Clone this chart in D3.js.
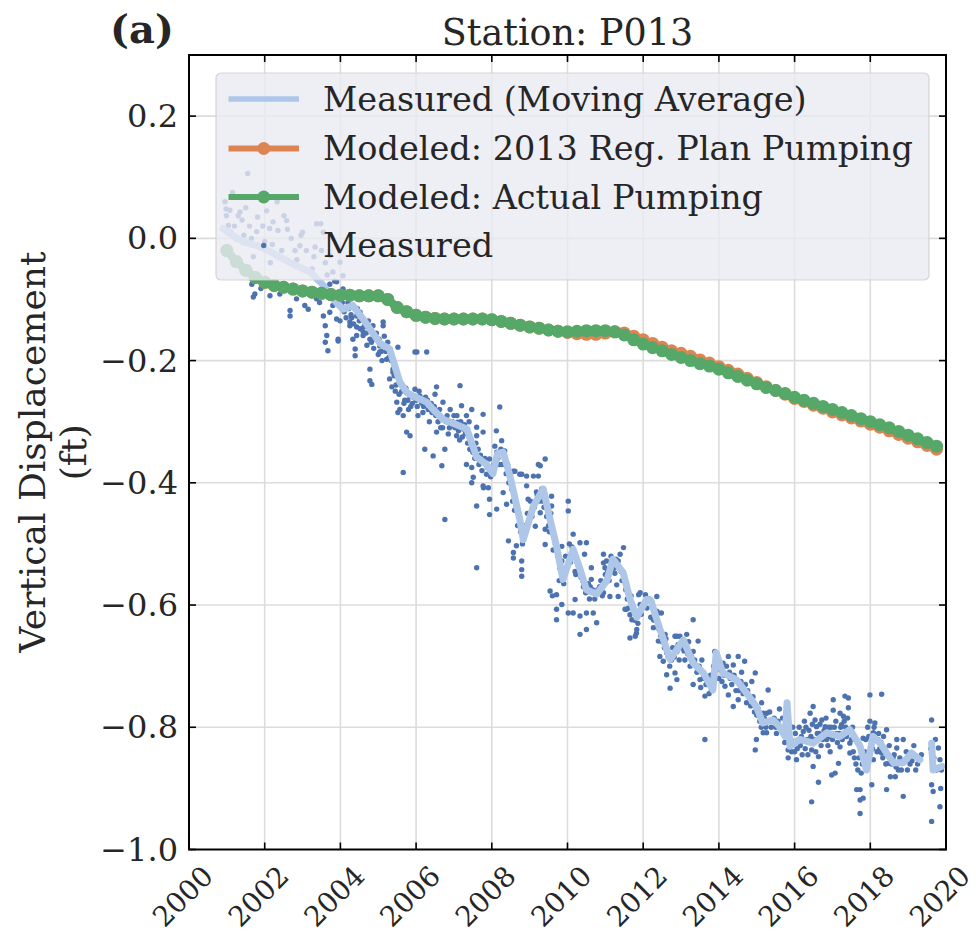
<!DOCTYPE html>
<html><head><meta charset="utf-8">
<script src="https://cdn.jsdelivr.net/npm/d3@7"></script>
<style>body{margin:0;background:#fff}svg{display:block}text{font-family:"DejaVu Serif",serif;fill:#262626}</style>
</head><body>
<svg id="chart" width="976" height="939"></svg>
<script>
const title = "Station: P013";
const panelLabel = "(a)";
const yLabelLines = ["Vertical Displacement", "(ft)"];
const xTicks = [2000,2002,2004,2006,2008,2010,2012,2014,2016,2018,2020];
const yTicks = [-1.0,-0.8,-0.6,-0.4,-0.2,0.0,0.2];
const legendLabels = ["Measured (Moving Average)","Modeled: 2013 Reg. Plan Pumping","Modeled: Actual Pumping","Measured"];

// Modeled series (quarterly)
const modelYears = [2001.00,2001.25,2001.50,2001.75,2002.00,2002.25,2002.50,2002.75,2003.00,2003.25,2003.50,2003.75,2004.00,2004.25,2004.50,2004.75,2005.00,2005.25,2005.50,2005.75,2006.00,2006.25,2006.50,2006.75,2007.00,2007.25,2007.50,2007.75,2008.00,2008.25,2008.50,2008.75,2009.00,2009.25,2009.50,2009.75,2010.00,2010.25,2010.50,2010.75,2011.00,2011.25,2011.50,2011.75,2012.00,2012.25,2012.50,2012.75,2013.00,2013.25,2013.50,2013.75,2014.00,2014.25,2014.50,2014.75,2015.00,2015.25,2015.50,2015.75,2016.00,2016.25,2016.50,2016.75,2017.00,2017.25,2017.50,2017.75,2018.00,2018.25,2018.50,2018.75,2019.00,2019.25,2019.50,2019.75];
const actualPumping = [-0.020,-0.038,-0.052,-0.064,-0.072,-0.077,-0.080,-0.083,-0.086,-0.088,-0.090,-0.092,-0.093,-0.093,-0.094,-0.094,-0.094,-0.100,-0.113,-0.120,-0.126,-0.129,-0.131,-0.132,-0.132,-0.132,-0.132,-0.132,-0.133,-0.136,-0.139,-0.142,-0.145,-0.147,-0.150,-0.152,-0.153,-0.152,-0.151,-0.151,-0.151,-0.153,-0.158,-0.166,-0.173,-0.179,-0.184,-0.190,-0.195,-0.200,-0.205,-0.209,-0.214,-0.220,-0.226,-0.232,-0.238,-0.244,-0.249,-0.254,-0.260,-0.265,-0.270,-0.275,-0.280,-0.285,-0.290,-0.295,-0.300,-0.305,-0.310,-0.316,-0.322,-0.328,-0.334,-0.340];
const regPlanPumping = [-0.020,-0.038,-0.052,-0.064,-0.072,-0.077,-0.080,-0.083,-0.086,-0.088,-0.090,-0.092,-0.093,-0.093,-0.094,-0.094,-0.094,-0.100,-0.113,-0.120,-0.126,-0.129,-0.131,-0.132,-0.132,-0.132,-0.132,-0.132,-0.133,-0.136,-0.139,-0.142,-0.145,-0.147,-0.150,-0.152,-0.154,-0.156,-0.157,-0.157,-0.155,-0.153,-0.155,-0.160,-0.166,-0.172,-0.178,-0.184,-0.188,-0.193,-0.199,-0.204,-0.210,-0.216,-0.222,-0.229,-0.236,-0.243,-0.249,-0.255,-0.262,-0.267,-0.273,-0.278,-0.284,-0.289,-0.294,-0.299,-0.304,-0.309,-0.315,-0.321,-0.327,-0.333,-0.339,-0.345];

// Moving average [year, value] (null = gap)
const movingAverage = [[2000.90,0.016],[2001.15,0.005],[2001.45,-0.006],[2001.80,-0.012],[2002.15,-0.022],[2002.50,-0.034],[2002.85,-0.045],[2003.20,-0.055],[2003.55,-0.077],[2003.80,-0.099],[2004.07,-0.116],[2004.33,-0.110],[2004.60,-0.132],[2004.80,-0.150],[2005.05,-0.172],[2005.30,-0.181],[2005.57,-0.235],[2005.75,-0.252],[2005.92,-0.258],[2006.28,-0.268],[2006.45,-0.280],[2006.71,-0.296],[2007.07,-0.305],[2007.34,-0.312],[2007.60,-0.358],[2007.86,-0.370],[2008.03,-0.385],[2008.15,-0.352],[2008.30,-0.350],[2008.48,-0.389],[2008.74,-0.460],[2008.83,-0.493],[2009.10,-0.438],[2009.36,-0.410],[2009.54,-0.460],[2009.71,-0.504],[2009.88,-0.558],[2010.15,-0.509],[2010.33,-0.541],[2010.50,-0.575],[2010.77,-0.582],[2011.04,-0.560],[2011.20,-0.525],[2011.47,-0.547],[2011.65,-0.590],[2011.83,-0.620],[2012.09,-0.591],[2012.20,-0.592],[2012.36,-0.624],[2012.71,-0.689],[2013.06,-0.657],[2013.32,-0.695],[2013.59,-0.711],[2013.84,-0.739],[2013.93,-0.678],[2014.10,-0.711],[2014.46,-0.722],[2014.73,-0.744],[2014.99,-0.766],[2015.16,-0.793],[2015.43,-0.788],[2015.60,-0.799],[2015.75,-0.815],[2015.80,-0.760],[2015.88,-0.831],[2016.14,-0.820],[2016.49,-0.826],[2016.85,-0.809],[2017.20,-0.815],[2017.46,-0.804],[2017.73,-0.831],[2017.90,-0.870],[2018.07,-0.815],[2018.26,-0.826],[2018.43,-0.842],[2018.61,-0.858],[2018.87,-0.858],[2019.09,-0.842],[2019.31,-0.853],[2019.45,null],[2019.62,-0.826],[2019.66,-0.870],[2019.89,-0.864]];

// Measured points [year, value]
const measured = [
[2000.99,0.037],[2001.35,0.043],[2002.22,0.027],[2002.58,0.029],[2003.37,0.024],[2003.33,-0.014],[2002.93,-0.012],[2001.79,0.011],[2002.35,0.013],[2001.08,0.046],[2001.25,-0.001],[2003.72,-0.028],[2003.99,-0.039],[2004.07,-0.061],[2001.55,0.106],[2000.98,0.048],[2001.30,0.037],[2002.33,0.060],[2002.51,0.037],[2003.48,0.024],[2002.13,0.016],[2001.04,0.021],[2002.96,0.005],[2001.81,0.035],
[2001.15,0.075],[2001.60,0.020],[2002.00,-0.005],[2002.70,0.000],[2003.10,-0.020],[2003.60,-0.040],[2001.45,0.005],[2000.95,0.060],[2001.70,-0.030],[2002.45,-0.020],[2002.85,-0.035],[2003.25,-0.050],[2003.55,0.010],[2001.20,0.020],[2002.15,-0.040],[2003.80,-0.055],
[2001.10,0.010],[2001.40,0.030],[2001.65,0.000],[2001.95,0.020],[2002.20,-0.010],[2002.60,0.015],[2002.80,-0.020],[2003.00,0.010],[2003.30,-0.030],[2003.50,-0.020],[2003.65,-0.060],[2003.85,-0.070],[2002.05,0.045],[2001.50,0.050],
[2001.66,-0.075],[2001.74,-0.091],[2001.70,-0.096],[2002.14,-0.094],[2002.40,-0.091],[2002.67,-0.118],[2002.67,-0.127],[2002.84,-0.099],[2003.06,-0.110],[2003.15,-0.116],[2003.37,-0.099],[2003.55,-0.127],[2003.60,-0.143],[2003.64,-0.159],[2003.67,-0.184],[2003.72,-0.121],[2003.90,-0.132],[2004.07,-0.083],[2003.90,-0.071],[2003.72,-0.075],[2004.25,-0.143],[2004.43,-0.127],[2004.52,-0.148],[2004.39,-0.181],[2004.60,-0.159],[2004.78,-0.165],[2004.86,-0.143],[2004.78,-0.214],[2005.04,-0.186],[2005.13,-0.176],
[2001.90,-0.082],[2002.30,-0.080],[2002.90,-0.085],[2003.20,-0.090],[2003.45,-0.105],
[2004.07,-0.094],[2003.80,-0.110],[2003.99,-0.135],[2003.94,-0.165],[2004.25,-0.137],[2004.39,-0.192],[2004.52,-0.121],[2004.60,-0.153],[2004.43,-0.159],[2004.83,-0.239],[2005.13,-0.137],[2005.04,-0.176],[2005.22,-0.198],[2005.39,-0.214],[2005.52,-0.178],[2005.36,-0.243],[2005.49,-0.268],[2005.52,-0.285],[2005.66,-0.290],[2005.84,-0.258],[2005.75,-0.317],[2005.84,-0.323],[2005.66,-0.383],[2006.02,-0.186],[2006.28,-0.186],[2005.97,-0.247],[2006.10,-0.258],[2006.18,-0.285],[2006.37,-0.280],[2006.54,-0.243],[2006.50,-0.255],[2006.23,-0.345],[2006.45,-0.356],[2006.68,-0.372],[2006.54,-0.317],[2006.71,-0.268],[2006.76,-0.345],[2006.90,-0.280],[2007.16,-0.241],[2007.20,-0.274],[2006.94,-0.307],[2007.07,-0.323],[2007.10,-0.301],[2007.24,-0.312],[2007.33,-0.290],[2007.47,-0.280],[2007.60,-0.309],[2007.60,-0.323],[2007.77,-0.317],[2007.33,-0.370],[2007.47,-0.375],[2007.77,-0.288],[2007.64,-0.345],[2007.51,-0.391],[2007.77,-0.405],[2007.86,-0.386],[2007.94,-0.361],[2008.13,-0.350],[2008.21,-0.276],[2008.26,-0.331],[2008.12,-0.315],[2008.34,-0.348],[2008.57,-0.381],[2008.79,-0.386],[2008.30,-0.416],[2008.53,-0.411],[2007.60,-0.438],[2007.94,-0.427],
[2003.60,-0.170],[2003.94,-0.168],[2004.33,-0.165],[2004.43,-0.145],[2004.78,-0.233],[2004.86,-0.165],[2005.13,-0.143],[2005.39,-0.219],[2005.57,-0.280],[2005.97,-0.186],
[2004.10,-0.120],[2004.20,-0.105],[2004.30,-0.130],[2004.50,-0.135],[2004.65,-0.140],[2004.70,-0.175],[2004.90,-0.160],[2005.00,-0.190],[2005.10,-0.200],[2005.25,-0.170],[2005.30,-0.230],[2005.45,-0.250],[2005.60,-0.240],[2005.70,-0.265],[2005.80,-0.280],[2005.90,-0.270],[2006.00,-0.265],[2006.05,-0.290],[2006.15,-0.270],[2006.30,-0.265],[2006.35,-0.300],[2006.40,-0.270],[2006.60,-0.290],[2006.65,-0.310],[2006.80,-0.300],[2006.85,-0.320],[2007.00,-0.290],[2007.15,-0.330],[2007.30,-0.320],[2007.40,-0.300],
[2004.05,-0.105],[2004.15,-0.130],[2004.22,-0.115],[2004.28,-0.125],[2004.35,-0.140],[2004.45,-0.115],[2004.55,-0.130],[2004.62,-0.145],[2004.68,-0.155],[2004.74,-0.135],[2004.82,-0.170],[2004.88,-0.180],[2004.95,-0.155],[2005.02,-0.165],[2005.08,-0.185],[2005.16,-0.160],[2005.20,-0.185],[2005.28,-0.195],[2005.34,-0.200],[2005.42,-0.225],[2005.47,-0.240],[2005.55,-0.255],[2005.62,-0.250],[2005.68,-0.270],[2005.73,-0.245],[2005.78,-0.265],[2005.86,-0.275],[2005.93,-0.260],
[2006.03,-0.275],[2006.08,-0.250],[2006.12,-0.265],[2006.20,-0.275],[2006.25,-0.260],[2006.32,-0.280],[2006.42,-0.285],[2006.48,-0.275],[2006.52,-0.290],[2006.58,-0.300],[2006.62,-0.280],[2006.70,-0.310],[2006.74,-0.295],[2006.82,-0.290],[2006.88,-0.310],[2006.96,-0.300],[2007.03,-0.310],[2007.08,-0.290],[2007.12,-0.315],[2007.18,-0.300],[2007.22,-0.325],[2007.28,-0.305],[2007.36,-0.335],[2007.42,-0.345],[2007.50,-0.350],[2007.55,-0.360],[2007.58,-0.335],[2007.66,-0.370],[2007.70,-0.355],[2007.74,-0.380],[2007.82,-0.360],[2007.88,-0.375],[2007.97,-0.390],
[2006.76,-0.460],[2007.60,-0.539],[2007.94,-0.452],[2008.13,-0.443],[2007.47,-0.400],[2007.78,-0.408],[2007.91,-0.408],[2008.39,-0.435],[2008.44,-0.495],[2008.57,-0.514],[2008.79,-0.528],[2008.79,-0.553],[2008.74,-0.386],[2008.92,-0.389],[2009.10,-0.389],[2009.23,-0.389],[2008.92,-0.405],[2008.96,-0.427],[2009.23,-0.370],[2009.41,-0.361],[2009.15,-0.471],[2009.28,-0.449],[2009.41,-0.476],[2009.41,-0.501],[2009.58,-0.438],[2009.58,-0.422],[2010.02,-0.430],[2010.02,-0.446],[2009.85,-0.504],[2009.85,-0.528],[2010.15,-0.484],[2010.33,-0.498],[2010.50,-0.498],[2010.45,-0.517],[2010.20,-0.545],[2010.63,-0.539],[2010.63,-0.558],[2010.95,-0.517],[2010.95,-0.531],[2011.39,-0.517],[2011.48,-0.506],[2011.34,-0.528],[2009.54,-0.577],[2009.71,-0.583],[2009.85,-0.599],[2010.02,-0.613],[2010.33,-0.618],[2010.68,-0.613],[2010.95,-0.580],[2011.12,-0.586],[2011.34,-0.586],[2011.56,-0.607],[2011.70,-0.624],[2011.92,-0.580],[2012.13,-0.591],[2012.36,-0.586],[2012.40,-0.613],[2013.32,-0.624],[2009.71,-0.607],[2009.71,-0.624],
[2008.61,-0.381],[2009.28,-0.372],[2008.57,-0.523],[2008.79,-0.542],[2008.65,-0.503],[2009.60,-0.585],[2010.15,-0.613],[2010.50,-0.613],[2010.77,-0.629],[2010.50,-0.640],[2010.33,-0.648],[2010.20,-0.591],[2011.30,-0.567],[2011.25,-0.548],[2011.42,-0.545],[2011.61,-0.605],[2011.84,-0.613],[2011.88,-0.583],[2012.06,-0.583],[2012.36,-0.610],[2012.48,-0.613],[2012.00,-0.599],[2011.82,-0.646],[2012.27,-0.624],[2012.58,-0.648],[2012.89,-0.651],
[2008.20,-0.370],[2008.35,-0.360],[2008.45,-0.400],[2008.70,-0.450],[2008.85,-0.470],[2009.00,-0.450],[2009.20,-0.420],[2009.35,-0.430],[2009.50,-0.470],[2009.65,-0.490],[2009.80,-0.540],[2009.95,-0.520],[2010.10,-0.520],[2010.25,-0.530],[2010.40,-0.560],[2010.60,-0.570],[2010.85,-0.570],[2011.00,-0.550],[2011.15,-0.520],[2011.50,-0.560],[2011.70,-0.600],
[2008.05,-0.370],[2008.08,-0.340],[2008.16,-0.360],[2008.24,-0.345],[2008.28,-0.370],[2008.38,-0.385],[2008.42,-0.370],[2008.50,-0.395],[2008.55,-0.430],[2008.60,-0.445],[2008.68,-0.470],[2008.76,-0.480],[2008.81,-0.500],[2008.88,-0.470],[2008.94,-0.450],[2009.02,-0.430],[2009.06,-0.455],[2009.12,-0.440],[2009.18,-0.415],[2009.25,-0.430],[2009.32,-0.410],[2009.38,-0.440],[2009.45,-0.455],[2009.52,-0.480],[2009.56,-0.450],[2009.62,-0.510],[2009.68,-0.500],[2009.74,-0.520],[2009.78,-0.560],[2009.83,-0.545],[2009.90,-0.565],[2009.98,-0.540],
[2010.05,-0.500],[2010.08,-0.530],[2010.12,-0.505],[2010.18,-0.520],[2010.22,-0.550],[2010.28,-0.535],[2010.36,-0.555],[2010.42,-0.570],[2010.48,-0.580],[2010.55,-0.565],[2010.58,-0.590],[2010.66,-0.575],[2010.72,-0.590],[2010.80,-0.575],[2010.88,-0.560],[2010.92,-0.585],[2011.06,-0.545],[2011.10,-0.560],[2011.18,-0.530],[2011.22,-0.540],[2011.28,-0.525],[2011.36,-0.540],[2011.44,-0.560],[2011.54,-0.575],[2011.58,-0.590],[2011.68,-0.585],[2011.74,-0.610],[2011.78,-0.625],[2011.86,-0.630],[2011.95,-0.615],[2012.02,-0.600],[2012.10,-0.605],[2012.16,-0.590],
[2011.03,-0.528],[2010.99,-0.539],[2011.52,-0.607],[2011.65,-0.616],[2011.65,-0.654],[2011.79,-0.651],[2011.83,-0.640],[2011.92,-0.599],[2012.27,-0.637],[2012.40,-0.659],[2012.44,-0.684],[2012.53,-0.692],[2012.62,-0.714],[2012.62,-0.678],[2012.71,-0.736],[2012.84,-0.651],[2012.97,-0.651],[2013.15,-0.648],[2012.89,-0.676],[2012.84,-0.711],[2012.89,-0.722],[2013.32,-0.676],[2013.45,-0.659],[2013.32,-0.730],[2013.50,-0.722],[2013.63,-0.749],[2013.63,-0.820],[2013.89,-0.676],[2013.94,-0.706],[2014.11,-0.695],[2014.25,-0.684],[2014.38,-0.698],[2014.51,-0.684],[2014.68,-0.692],[2014.16,-0.733],[2014.25,-0.747],[2014.38,-0.766],[2014.51,-0.755],[2014.55,-0.730],[2014.73,-0.760],[2014.87,-0.725],[2014.96,-0.711],[2015.13,-0.760],[2015.09,-0.782],[2015.30,-0.739],[2015.17,-0.777],[2015.26,-0.777],[2014.99,-0.820],[2015.17,-0.809],[2015.26,-0.790],[2015.26,-0.809],[2014.96,-0.837],
[2012.20,-0.620],[2012.50,-0.660],[2012.75,-0.690],[2013.00,-0.670],[2013.10,-0.690],[2013.20,-0.660],[2013.40,-0.700],[2013.55,-0.690],[2013.70,-0.720],[2013.80,-0.740],[2014.00,-0.720],[2014.30,-0.720],[2014.45,-0.740],[2014.60,-0.710],[2014.80,-0.750],[2015.00,-0.780],[2015.40,-0.790],[2015.50,-0.800],[2015.60,-0.770],[2015.70,-0.810],
[2012.24,-0.600],[2012.30,-0.625],[2012.34,-0.615],[2012.42,-0.640],[2012.46,-0.650],[2012.56,-0.670],[2012.60,-0.655],[2012.66,-0.685],[2012.70,-0.700],[2012.78,-0.670],[2012.82,-0.685],[2012.92,-0.665],[2012.95,-0.690],[2013.03,-0.660],[2013.08,-0.675],[2013.13,-0.665],[2013.18,-0.680],[2013.24,-0.700],[2013.28,-0.685],[2013.36,-0.690],[2013.42,-0.710],[2013.48,-0.700],[2013.52,-0.735],[2013.58,-0.720],[2013.66,-0.730],[2013.74,-0.745],[2013.78,-0.715],[2013.86,-0.700],[2013.98,-0.690],[2014.04,-0.705],[2014.08,-0.725],[2014.14,-0.715],[2014.20,-0.700],[2014.28,-0.710],[2014.34,-0.730],[2014.40,-0.715],[2014.48,-0.725],[2014.53,-0.740],[2014.58,-0.725],[2014.64,-0.745],[2014.70,-0.730],[2014.76,-0.740],[2014.84,-0.765],[2014.90,-0.750],[2014.94,-0.775],[2015.04,-0.770],[2015.08,-0.790],[2015.12,-0.800],[2015.20,-0.785],[2015.24,-0.800],[2015.34,-0.775],[2015.38,-0.800],[2015.46,-0.785],[2015.52,-0.810],[2015.56,-0.790],[2015.64,-0.800],[2015.68,-0.785],[2015.74,-0.825],
[2015.83,-0.837],[2015.83,-0.850],[2016.05,-0.853],[2016.10,-0.820],[2016.23,-0.807],[2016.23,-0.823],[2016.41,-0.777],[2016.49,-0.766],[2016.54,-0.788],[2016.58,-0.799],[2016.45,-0.837],[2016.49,-0.864],[2016.63,-0.848],[2016.72,-0.788],[2016.81,-0.799],[2016.85,-0.820],[2016.94,-0.840],[2016.98,-0.878],[2017.07,-0.875],[2017.02,-0.755],[2017.02,-0.772],[2017.20,-0.777],[2017.24,-0.796],[2017.29,-0.782],[2017.42,-0.752],[2017.42,-0.768],[2017.33,-0.749],[2017.29,-0.810],[2017.20,-0.832],[2017.16,-0.859],[2017.46,-0.826],[2017.46,-0.842],[2017.64,-0.902],[2017.73,-0.902],[2017.73,-0.919],[2017.73,-0.941],[2017.81,-0.916],[2016.63,-0.890],[2016.45,-0.922],[2017.99,-0.747],[2018.30,-0.746],[2017.99,-0.790],[2018.12,-0.793],[2018.08,-0.809],[2017.81,-0.818],[2017.99,-0.837],[2018.08,-0.853],[2018.04,-0.894],[2018.35,-0.815],[2018.43,-0.804],[2018.30,-0.842],[2018.48,-0.859],[2018.53,-0.881],[2018.66,-0.881],[2018.43,-0.902],[2018.70,-0.820],[2018.70,-0.834],[2018.87,-0.820],[2018.87,-0.913],[2018.74,-0.870],[2019.62,-0.788],[2019.62,-0.894],[2019.66,-0.905],[2019.84,-0.930],[2019.62,-0.954],[2019.80,-0.834],[2019.84,-0.853],[2019.75,-0.870],
[2015.90,-0.820],[2016.00,-0.840],[2016.15,-0.830],[2016.30,-0.800],[2016.35,-0.845],[2016.65,-0.810],[2016.90,-0.800],[2017.10,-0.810],[2017.35,-0.800],[2017.55,-0.840],[2017.60,-0.820],[2017.90,-0.860],[2018.20,-0.820],[2018.60,-0.850],[2018.95,-0.840],[2019.05,-0.860],[2019.15,-0.830],[2019.20,-0.870],[2019.30,-0.850],[2015.95,-0.800],[2016.70,-0.830],
[2015.86,-0.810],[2015.92,-0.840],[2015.98,-0.825],[2016.02,-0.810],[2016.07,-0.835],[2016.12,-0.800],[2016.18,-0.815],[2016.20,-0.845],[2016.26,-0.790],[2016.28,-0.835],[2016.33,-0.820],[2016.38,-0.805],[2016.43,-0.815],[2016.47,-0.795],[2016.52,-0.820],[2016.56,-0.840],[2016.60,-0.810],[2016.67,-0.795],[2016.74,-0.820],[2016.78,-0.805],[2016.83,-0.785],[2016.88,-0.830],[2016.92,-0.815],[2016.96,-0.800],[2017.00,-0.820],[2017.05,-0.800],[2017.09,-0.790],[2017.13,-0.825],[2017.18,-0.810],[2017.22,-0.800],[2017.26,-0.820],[2017.31,-0.790],[2017.37,-0.815],[2017.40,-0.785],[2017.44,-0.805],[2017.50,-0.820],[2017.53,-0.800],[2017.58,-0.850],[2017.62,-0.860],[2017.67,-0.870],[2017.70,-0.850],[2017.76,-0.875],[2017.79,-0.860],[2017.85,-0.840],[2017.88,-0.820],[2017.93,-0.800],[2017.96,-0.815],[2018.02,-0.820],[2018.06,-0.835],[2018.10,-0.800],[2018.14,-0.820],[2018.18,-0.840],[2018.22,-0.810],[2018.25,-0.835],[2018.28,-0.825],[2018.33,-0.850],[2018.38,-0.835],[2018.41,-0.860],[2018.46,-0.845],[2018.50,-0.830],[2018.56,-0.860],[2018.63,-0.845],[2018.68,-0.865],[2018.78,-0.850],[2018.82,-0.870],[2018.92,-0.855],[2018.98,-0.870],[2019.02,-0.845],[2019.10,-0.855],[2019.25,-0.860],[2019.35,-0.845],[2019.60,-0.835],[2019.68,-0.850],[2019.72,-0.820],[2019.88,-0.870],[2019.86,-0.900]
];

const colors = {measured:"#4c72b0", ma:"#aec7e8", reg:"#dd8452", actual:"#55a868"};

const svg = d3.select("#chart");
const M = {left:189, right:946, top:55, bottom:849.5};
const x = d3.scaleLinear().domain([2000,2020]).range([M.left,M.right]);
const y = d3.scaleLinear().domain([-1.0,0.3]).range([M.bottom,M.top]);

const clipId = "plotclip";
svg.append("clipPath").attr("id",clipId).append("rect")
  .attr("x",M.left).attr("y",M.top).attr("width",M.right-M.left).attr("height",M.bottom-M.top);

// grid
const grid = svg.append("g");
grid.selectAll(".gx").data(xTicks.slice(1,-1)).join("line")
  .attr("x1",d=>x(d)).attr("x2",d=>x(d)).attr("y1",M.top).attr("y2",M.bottom)
  .attr("stroke","#dcdcdc").attr("stroke-width",1.6);
grid.selectAll(".gy").data(yTicks.slice(1)).join("line")
  .attr("y1",d=>y(d)).attr("y2",d=>y(d)).attr("x1",M.left).attr("x2",M.right)
  .attr("stroke","#dcdcdc").attr("stroke-width",1.6);

const plot = svg.append("g").attr("clip-path",`url(#${clipId})`);
plot.selectAll("circle.m").data(measured).join("circle")
  .attr("cx",d=>x(d[0])).attr("cy",d=>y(d[1])).attr("r",2.7).attr("fill",colors.measured);

const ma = d3.line().defined(d=>d[1]!==null).x(d=>x(d[0])).y(d=>y(d[1]));
plot.append("path").attr("d",ma(movingAverage)).attr("fill","none")
  .attr("stroke",colors.ma).attr("stroke-width",7).attr("stroke-linejoin","round").attr("stroke-linecap","round");

function modelSeries(vals,color){
  const pts = modelYears.map((t,i)=>[t,vals[i]]);
  plot.append("path").attr("d",d3.line().x(d=>x(d[0])).y(d=>y(d[1]))(pts))
    .attr("fill","none").attr("stroke",color).attr("stroke-width",8);
  plot.append("g").selectAll("circle").data(pts).join("circle")
    .attr("cx",d=>x(d[0])).attr("cy",d=>y(d[1])).attr("r",6.5).attr("fill",color);
}
modelSeries(regPlanPumping,colors.reg);
modelSeries(actualPumping,colors.actual);

// legend
const lg = svg.append("g");
lg.append("rect").attr("x",216).attr("y",73).attr("width",713).attr("height",207).attr("rx",5)
  .attr("fill","#eaeaf2").attr("fill-opacity",0.8).attr("stroke","#cccccc").attr("stroke-opacity",0.8).attr("stroke-width",1.2);
const rowY = [99,148.5,197,245.5];
const hx0 = 228.5, hx1 = 299;
lg.append("line").attr("x1",hx0).attr("x2",hx1).attr("y1",rowY[0]).attr("y2",rowY[0]).attr("stroke",colors.ma).attr("stroke-width",5.5);
[[colors.reg,1],[colors.actual,2]].forEach(([c,i])=>{
  lg.append("line").attr("x1",hx0).attr("x2",hx1).attr("y1",rowY[i]).attr("y2",rowY[i]).attr("stroke",c).attr("stroke-width",6);
  lg.append("circle").attr("cx",(hx0+hx1)/2).attr("cy",rowY[i]).attr("r",6.5).attr("fill",c);
});
lg.append("circle").attr("cx",(hx0+hx1)/2).attr("cy",rowY[3]).attr("r",2.7).attr("fill",colors.measured);
lg.selectAll("text").data(legendLabels).join("text")
  .attr("x",323).attr("y",(d,i)=>rowY[i]).attr("dominant-baseline","central")
  .attr("font-size",33.5).text(d=>d);

// spines & ticks
const ax = svg.append("g");
ax.append("rect").attr("x",M.left).attr("y",M.top).attr("width",M.right-M.left).attr("height",M.bottom-M.top)
  .attr("fill","none").attr("stroke","#000").attr("stroke-width",2);
const tl = 7;
xTicks.forEach(t=>{
  ax.append("line").attr("x1",x(t)).attr("x2",x(t)).attr("y1",M.bottom).attr("y2",M.bottom-tl).attr("stroke","#000").attr("stroke-width",1.6);
  ax.append("line").attr("x1",x(t)).attr("x2",x(t)).attr("y1",M.top).attr("y2",M.top+tl).attr("stroke","#000").attr("stroke-width",1.6);
});
yTicks.forEach(t=>{
  ax.append("line").attr("y1",y(t)).attr("y2",y(t)).attr("x1",M.left).attr("x2",M.left+tl).attr("stroke","#000").attr("stroke-width",1.6);
  ax.append("line").attr("y1",y(t)).attr("y2",y(t)).attr("x1",M.right).attr("x2",M.right-tl).attr("stroke","#000").attr("stroke-width",1.6);
});
const fmtY = d=> (d<0?"\u2212":"") + Math.abs(d).toFixed(1);
ax.selectAll(".yl").data(yTicks).join("text")
  .attr("x",M.left-11).attr("y",d=>y(d)).attr("text-anchor","end").attr("dominant-baseline","central")
  .attr("font-size",32).text(fmtY);
ax.selectAll(".xl").data(xTicks).join("text")
  .attr("text-anchor","middle").attr("dominant-baseline","central").attr("font-size",28)
  .attr("transform",d=>`translate(${x(d)-6},${M.bottom+47}) rotate(-45)`).text(d=>d);

svg.append("text").attr("x",(M.left+M.right)/2).attr("y",32).attr("text-anchor","middle").attr("dominant-baseline","central")
  .attr("font-size",36.5).text(title);
svg.append("text").attr("x",142).attr("y",28).attr("text-anchor","middle").attr("dominant-baseline","central")
  .attr("font-size",40).attr("font-weight","bold").text(panelLabel);
const yl = svg.append("text").attr("transform",`translate(0,${(M.top+M.bottom)/2}) rotate(-90)`)
  .attr("text-anchor","middle").attr("font-size",36);
yl.append("tspan").attr("x",0).attr("y",45).text(yLabelLines[0]);
yl.append("tspan").attr("x",0).attr("y",86).text(yLabelLines[1]);
</script>
</body></html>
